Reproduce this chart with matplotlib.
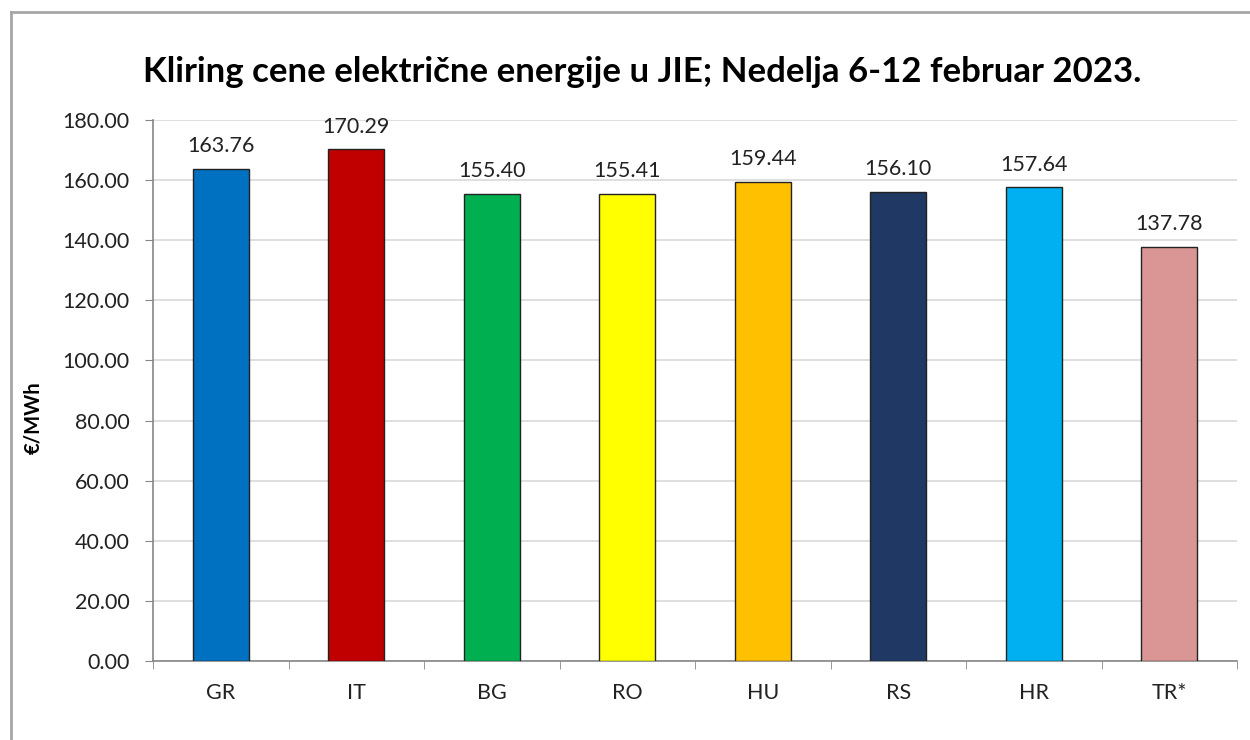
import matplotlib
matplotlib.use("Agg")
import matplotlib.pyplot as plt
from matplotlib.lines import Line2D
import numpy as np

categories = ["GR", "IT", "BG", "RO", "HU", "RS", "HR", "TR*"]
values = [163.76, 170.29, 155.40, 155.41, 159.44, 156.10, 157.64, 137.78]
colors = ["#0070C0", "#C00000", "#00B050", "#FFFF00", "#FFC000", "#1F3864", "#00B0F0", "#D99694"]
yticks = [0, 20, 40, 60, 80, 100, 120, 140, 160, 180]
title = "Kliring cene električne energije u JIE; Nedelja 6-12 februar 2023."
ylabel = "€/MWh"

plt.rcParams['font.family'] = ['Lato', 'DejaVu Sans']

fig = plt.figure(figsize=(12.5, 7.4), dpi=100)
ax = fig.add_axes([153/1250, 1-661/740, (1237-153)/1250, (661-120)/740])

x = np.arange(len(categories))
ax.bar(x, values, width=0.41, color=colors, edgecolor="#222222", linewidth=1.0, zorder=3)
for xi, v in zip(x, values):
    ax.annotate(f"{v:.2f}", (xi, v), xytext=(0, 9), textcoords="offset points",
                ha="center", va="bottom", fontsize=15.5, color="#222222")

ax.set_xlim(-0.5, len(categories) - 0.5)
ax.set_ylim(0, 180)
ax.set_yticks(yticks)
ax.set_yticklabels([f"{t:.2f}" for t in yticks], fontsize=15.5, color="#222222")
ax.set_xticks(x)
ax.set_xticklabels(categories, fontsize=15.5, color="#222222")
ax.set_xticks(np.arange(-0.5, len(categories)), minor=True)
ax.tick_params(axis="x", which="major", length=0, pad=16)
ax.tick_params(axis="x", which="minor", length=6, color="#868686", direction="out")
ax.tick_params(axis="y", length=6, color="#868686", pad=11)
ax.grid(axis="y", color="#D9D9D9", linewidth=1.2, zorder=0)
for s in ["top", "right"]:
    ax.spines[s].set_visible(False)
for s in ["left", "bottom"]:
    ax.spines[s].set_color("#868686")
    ax.spines[s].set_linewidth(1.2)

ax.set_ylabel(ylabel, fontsize=14.5, fontweight="bold")
ax.yaxis.set_label_coords((43 - 153) / 1084, (661 - 418) / 541)
fig.text(0.514, 1-72/740, title, ha="center", va="center", fontsize=25, fontweight="bold")

# outer frame
fig.add_artist(Line2D([11/1250, 11/1250], [0, 1-12/740], color="#A6A6A6", linewidth=2, transform=fig.transFigure))
fig.add_artist(Line2D([11/1250, 1], [1-12/740, 1-12/740], color="#A6A6A6", linewidth=2, transform=fig.transFigure))

fig.savefig("out.png", dpi=100)
